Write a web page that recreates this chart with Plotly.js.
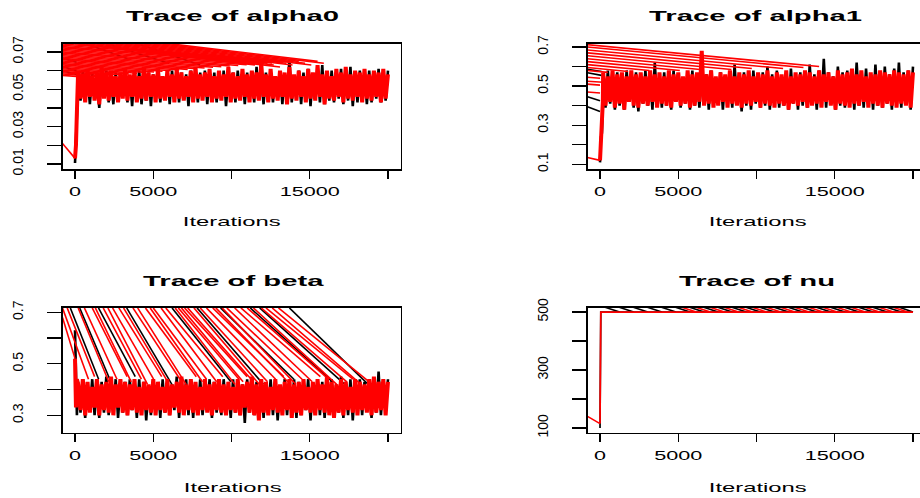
<!DOCTYPE html>
<html><head><meta charset="utf-8">
<script src="https://cdn.plot.ly/plotly-3.0.1.min.js"></script>
<style>html,body{margin:0;padding:0;overflow:hidden;background:#fff}#chart{width:935px;height:498px}</style>
</head><body><div id="chart"></div>
<script>
// ---------- data ----------
const panelTitles = ["Trace of alpha0", "Trace of alpha1", "Trace of beta", "Trace of nu"];
const xTickVals = [0, 5000, 10000, 15000, 20000];
const xTickText = ["0", "5000", "", "15000", ""];
const bandStart = 200, bandStep = 150; // thinned iteration grid of the stationary part

// alpha0
const alpha0BlackStartX = [0, 60, 120, 180];
const alpha0BlackStartY = [0.0105, 0.021, 0.035, 0.048];
const alpha0RedStartX = [0, 60, 120, 180];
const alpha0RedStartY = [0.013, 0.020, 0.038, 0.050];
const alpha0Black = [.058,.044,.060,.046,.057,.042,.059,.045,.055,.040,.058,.047,.060,.043,.056,.042,.059,.044,.058,.046,
.061,.043,.057,.041,.059,.045,.060,.042,.056,.044,.059,.041,.058,.046,.060,.043,.055,.045,.059,.042,
.060,.044,.057,.043,.059,.045,.058,.041,.060,.044,.056,.043,.059,.046,.060,.042,.057,.044,.059,.043,
.058,.045,.060,.041,.056,.044,.059,.043,.060,.045,.057,.042,.059,.044,.058,.043,.062,.045,.056,.042,
.059,.044,.060,.043,.057,.045,.059,.042,.058,.044,.066,.043,.057,.045,.060,.042,.059,.044,.061,.041,
.058,.045,.060,.043,.063,.042,.057,.044,.060,.043,.059,.045,.061,.042,.058,.044,.062,.041,.057,.043,
.060,.044,.058,.042,.060,.043,.059,.045,.061,.043,.058,.044,.060];
const alpha0Red = [.060,.045,.058,.043,.061,.046,.057,.044,.059,.042,.062,.045,.058,.044,.060,.046,.057,.043,.059,.045,
.061,.044,.058,.046,.060,.043,.057,.045,.062,.044,.059,.046,.058,.043,.061,.045,.057,.044,.060,.046,
.058,.043,.061,.045,.059,.044,.057,.046,.060,.043,.062,.045,.058,.044,.059,.046,.061,.043,.057,.045,
.060,.044,.058,.046,.062,.043,.059,.045,.057,.044,.061,.046,.058,.043,.060,.045,.059,.044,.064,.046,
.058,.043,.061,.045,.057,.044,.060,.046,.059,.042,.062,.045,.058,.044,.060,.046,.057,.043,.061,.045,
.059,.044,.063,.046,.058,.042,.060,.045,.057,.044,.061,.046,.059,.043,.062,.045,.058,.044,.060,.046,
.059,.043,.061,.045,.058,.044,.060,.046,.059,.043,.061,.045,.058];
const alpha0BlackWrapX0 = [-800, -800, -800, 700, 2000, 4000];
const alpha0BlackWrapY0 = [0.0668, 0.0622, 0.0600, 0.0745, 0.0745, 0.0745];
const alpha0BlackWrapX1 = [100, 100, 100, 3500, 6000, 8000];
const alpha0BlackWrapY1 = [0.0645, 0.0600, 0.0580, 0.066, 0.064, 0.063];
const alpha0RedWrapX0 = [-800,
  -800,-800,-800,-800,-800,-800,-800,-800,-800,-800,-800,-800,-800,-800,-800,-800,-800,-800,-800,-800,-800,-800,-800,-800,-800,
  0,600,1200,1800,2400,3000,3600,4200,4800,5400,6000];
const alpha0RedWrapY0 = [.021,
  .0575,.0582,.0589,.0596,.0603,.0610,.0617,.0624,.0631,.0638,.0645,.0652,.0659,.0666,.0673,.0680,.0687,.0694,.0701,.0708,.0715,.0722,.0729,.0736,.0743,
  .0745,.0745,.0745,.0745,.0745,.0745,.0745,.0745,.0745,.0745,.0745];
const alpha0RedWrapX1 = [0,
  740,1280,1820,2350,2890,3430,3970,4510,5050,5590,6120,6660,7200,7740,8280,8820,9350,9890,10430,10970,11510,12050,12590,13120,13660,
  11500,13100,12700,12300,13900,13500,15100,14700,14300,15900,15500];
const alpha0RedWrapY1 = [.013,
  .0565,.0569,.0572,.0576,.0579,.0583,.0586,.0590,.0593,.0597,.0600,.0604,.0607,.0611,.0614,.0618,.0621,.0625,.0628,.0632,.0635,.0639,.0642,.0646,.0649,
  .063,.062,.063,.064,.063,.064,.063,.064,.065,.064,.065];

// alpha1
const alpha1BlackStartX = [0, 60, 120, 180];
const alpha1BlackStartY = [0.11, 0.24, 0.26, 0.40];
const alpha1RedStartX = [0, 60, 120, 180];
const alpha1RedStartY = [0.12, 0.22, 0.27, 0.42];
const alpha1Black = [.56,.39,.58,.41,.55,.38,.57,.40,.54,.38,.58,.42,.56,.39,.57,.37,.55,.41,.58,.40,
.54,.38,.62,.41,.56,.39,.57,.40,.55,.38,.58,.42,.56,.39,.54,.41,.57,.38,.58,.40,
.55,.39,.57,.41,.56,.38,.58,.40,.54,.42,.57,.38,.55,.40,.56,.39,.61,.41,.55,.37,
.57,.40,.56,.38,.58,.41,.55,.39,.57,.40,.60,.38,.56,.41,.58,.39,.55,.40,.57,.38,
.59,.41,.56,.38,.57,.40,.55,.39,.61,.42,.56,.38,.58,.40,.64,.39,.57,.41,.55,.38,
.60,.40,.57,.39,.58,.41,.56,.38,.62,.40,.57,.39,.59,.41,.56,.38,.61,.40,.57,.39,
.60,.41,.56,.38,.59,.40,.62,.39,.57,.41,.58,.38,.60];
const alpha1Red = [.57,.40,.55,.42,.58,.39,.56,.41,.57,.38,.55,.42,.58,.40,.56,.39,.57,.41,.55,.40,
.58,.42,.56,.39,.57,.41,.55,.40,.58,.39,.56,.42,.57,.40,.55,.41,.58,.39,.56,.40,
.57,.42,.68,.40,.56,.41,.58,.39,.55,.40,.57,.42,.56,.39,.58,.41,.55,.40,.57,.39,
.56,.41,.58,.40,.55,.42,.57,.39,.56,.41,.58,.40,.55,.39,.57,.41,.56,.40,.58,.38,
.55,.41,.57,.40,.56,.42,.58,.39,.57,.40,.55,.41,.58,.39,.56,.42,.57,.40,.55,.38,
.58,.41,.56,.40,.57,.39,.59,.41,.56,.40,.58,.42,.55,.39,.57,.41,.56,.40,.58,.39,
.57,.41,.56,.40,.58,.39,.57,.41,.56,.40,.58,.39,.57];
const alpha1BlackWrapX0 = [-800, -800, -800, -800];
const alpha1BlackWrapY0 = [0.586, 0.568, 0.445, 0.394];
const alpha1BlackWrapX1 = [100, 100, 0, 0];
const alpha1BlackWrapY1 = [0.575, 0.555, 0.425, 0.37];
const alpha1RedWrapX0 = [-800,-800,-800,-800,-800,-800,-800,-800,-800,-800,-800,-800,-800,-800,-800];
const alpha1RedWrapY0 = [0.135, 0.712,0.700,0.685,0.670,0.655,0.640,0.625,0.610,0.595,0.580, 0.545,0.525,0.510,0.470];
const alpha1RedWrapX1 = [0, 14000,13000,11700,9700,8400,6400,5100,3150,1800,500, 0,200,0,0];
const alpha1RedWrapY1 = [0.12, 0.600,0.595,0.590,0.590,0.585,0.585,0.580,0.580,0.575,0.570, 0.540,0.520,0.505,0.465];

// beta
const betaBlackStartX = [0, 60, 120];
const betaBlackStartY = [0.63, 0.45, 0.30];
const betaRedStartX = [0, 60, 120];
const betaRedStartY = [0.52, 0.33, 0.44];
const betaBlack = [.43,.31,.44,.29,.42,.32,.44,.30,.41,.29,.43,.31,.45,.30,.42,.32,.44,.29,.41,.31,
.43,.30,.44,.32,.42,.29,.44,.31,.43,.28,.41,.30,.44,.32,.42,.29,.44,.31,.43,.30,
.42,.32,.45,.29,.41,.31,.44,.30,.43,.29,.42,.31,.44,.30,.41,.32,.44,.29,.43,.31,
.42,.30,.44,.32,.41,.29,.44,.31,.43,.30,.42,.27,.44,.31,.41,.30,.43,.32,.44,.29,
.42,.31,.44,.30,.43,.28,.41,.32,.44,.30,.42,.31,.44,.29,.43,.30,.41,.32,.44,.28,
.42,.31,.44,.30,.43,.29,.41,.32,.44,.30,.42,.31,.45,.29,.43,.30,.44,.28,.42,.31,
.44,.30,.43,.32,.41,.29,.44,.31,.47,.30,.43,.31,.44];
const betaRed = [.42,.32,.44,.30,.43,.31,.41,.33,.44,.30,.42,.32,.43,.31,.45,.30,.42,.33,.44,.31,
.43,.30,.42,.32,.44,.31,.41,.30,.43,.32,.42,.31,.44,.30,.43,.32,.41,.31,.44,.30,
.42,.33,.43,.31,.45,.30,.42,.32,.44,.31,.43,.30,.41,.32,.44,.31,.42,.30,.43,.32,
.44,.31,.42,.30,.43,.32,.41,.31,.44,.30,.42,.33,.43,.31,.45,.30,.42,.28,.44,.31,
.43,.30,.41,.32,.44,.31,.42,.30,.43,.32,.44,.29,.42,.31,.43,.30,.44,.32,.41,.31,
.43,.30,.44,.32,.42,.31,.45,.30,.43,.29,.42,.31,.44,.30,.43,.32,.41,.31,.44,.30,
.43,.32,.42,.31,.44,.30,.45,.31,.43,.32,.44,.30,.43];
const betaBlackWrapX0 = [-300, 300, 1500, 3300, 6200, 7800, 9300, 11200, 11800, 13700];
const betaBlackWrapY0 = [.717,.717,.717,.717,.717,.717,.717,.717,.717,.717];
const betaBlackWrapX1 = [1510, 2290, 3850, 6190, 9960, 12040, 13990, 16460, 17240, 18900];
const betaBlackWrapY1 = [.44,.43,.45,.42,.43,.42,.44,.43,.42,.41];
const betaRedWrapX0 = [-800, -800,-500,200,600,1100,1300,1800,2100,2400,2800,3100,3700,4000,4500,4800,5000,5500,5800,6400,6600,6800,7000,7200,7600,8000,8400,8800,9000,9400,9700,10200,10600,11000,11400,11900,12200,12600,13000];
const betaRedWrapY0 = [.68, .717,.717,.717,.717,.717,.717,.717,.717,.717,.717,.717,.717,.717,.717,.717,.717,.717,.717,.717,.717,.717,.717,.717,.717,.717,.717,.717,.717,.717,.717,.717,.717,.717,.717,.717,.717,.717,.717];
const betaRedWrapX1 = [0, 860,1250,2160,2680,3330,3590,4240,4630,5020,5540,5930,6710,7100,7750,8140,8400,9050,9440,10220,10480,10740,11000,11260,11780,12300,12820,13340,13600,14120,14510,15160,15680,16200,16720,17370,17760,18280,18800];
const betaRedWrapY1 = [.52, .44,.45,.43,.44,.45,.43,.44,.42,.44,.45,.43,.44,.42,.45,.43,.44,.43,.45,.42,.44,.43,.45,.44,.42,.43,.44,.45,.43,.42,.44,.43,.45,.44,.42,.43,.44,.42,.43];

// nu
const nuBlackX = [0, 50, 20000];
const nuBlackY = [100, 500, 500];
const nuRedX = [0, 50, 20000];
const nuRedY = [115, 500, 500];
const nuBlackWrapX0 = [300,1200,2100,3000,3900,4800,5700,6600,7500,8400,9300,10200,11100,12000,12900,13800,14700,15600,16500,17400,18300,19100];
const nuBlackWrapY0 = [517,517,517,517,517,517,517,517,517,517,517,517,517,517,517,517,517,517,517,517,517,517];
const nuBlackWrapX1 = [1250,2150,3050,3950,4850,5750,6650,7550,8450,9350,10250,11150,12050,12950,13850,14750,15650,16550,17450,18350,19250,20000];
const nuBlackWrapY1 = [500,500,500,500,500,500,500,500,500,500,500,500,500,500,500,500,500,500,500,500,500,500];
const nuRedWrapX0 = [-800, 5200,6100,7000,7900,8800,9700,10600,11500,12400,13300,14200,15100,16000,16900,17800,18700];
const nuRedWrapY0 = [140, 517,517,517,517,517,517,517,517,517,517,517,517,517,517,517,517];
const nuRedWrapX1 = [0, 6150,7050,7950,8850,9750,10650,11550,12450,13350,14250,15150,16050,16950,17850,18750,19650];
const nuRedWrapY1 = [115, 500,500,500,500,500,500,500,500,500,500,500,500,500,500,500,500];

// ---------- build ----------
const W = 935, H = 498;
const BLACK = '#000000', RED = '#ff0000';
function bandX(n) { const a = []; for (let i = 0; i < n; i++) a.push(bandStart + i * bandStep); return a; }
function chain(sx, sy, band, color, k, w) {
  return {type:'scatter', mode:'lines', x: sx.concat(bandX(band.length)), y: sy.concat(band),
    line:{color:color, width:w}, xaxis:'x'+k, yaxis:'y'+k, hoverinfo:'skip', showlegend:false};
}
function plain(x, y, color, k) {
  return {type:'scatter', mode:'lines', x:x, y:y, line:{color:color, width:1.7},
    xaxis:'x'+k, yaxis:'y'+k, hoverinfo:'skip', showlegend:false};
}
function wraps(x0, y0, x1, y1, color, k) {
  const x = [], y = [];
  for (let i = 0; i < x0.length; i++) { x.push(x0[i], x1[i], null); y.push(y0[i], y1[i], null); }
  return {type:'scatter', mode:'lines', x:x, y:y, line:{color:color, width:1.6},
    xaxis:'x'+k, yaxis:'y'+k, hoverinfo:'skip', showlegend:false};
}
const data = [
  chain(alpha0BlackStartX, alpha0BlackStartY, alpha0Black, BLACK, '', 2.6),
  wraps(alpha0BlackWrapX0, alpha0BlackWrapY0, alpha0BlackWrapX1, alpha0BlackWrapY1, BLACK, ''),
  chain(alpha0RedStartX, alpha0RedStartY, alpha0Red, RED, '', 4),
  wraps(alpha0RedWrapX0, alpha0RedWrapY0, alpha0RedWrapX1, alpha0RedWrapY1, RED, ''),
  chain(alpha1BlackStartX, alpha1BlackStartY, alpha1Black, BLACK, '2', 2.6),
  wraps(alpha1BlackWrapX0, alpha1BlackWrapY0, alpha1BlackWrapX1, alpha1BlackWrapY1, BLACK, '2'),
  chain(alpha1RedStartX, alpha1RedStartY, alpha1Red, RED, '2', 4),
  wraps(alpha1RedWrapX0, alpha1RedWrapY0, alpha1RedWrapX1, alpha1RedWrapY1, RED, '2'),
  chain(betaBlackStartX, betaBlackStartY, betaBlack, BLACK, '3', 2.6),
  wraps(betaBlackWrapX0, betaBlackWrapY0, betaBlackWrapX1, betaBlackWrapY1, BLACK, '3'),
  chain(betaRedStartX, betaRedStartY, betaRed, RED, '3', 4),
  wraps(betaRedWrapX0, betaRedWrapY0, betaRedWrapX1, betaRedWrapY1, RED, '3'),
  plain(nuBlackX, nuBlackY, BLACK, '4'),
  wraps(nuBlackWrapX0, nuBlackWrapY0, nuBlackWrapX1, nuBlackWrapY1, BLACK, '4'),
  plain(nuRedX, nuRedY, RED, '4'),
  wraps(nuRedWrapX0, nuRedWrapY0, nuRedWrapX1, nuRedWrapY1, RED, '4')
];

const FONT = 'Liberation Sans, Arial, sans-serif';
function xAxis(l, r, anchor) {
  return {domain:[l / W, r / W], anchor:anchor, range:[-800, 20800], tickmode:'array',
    tickvals:xTickVals, ticktext:xTickText, ticks:'outside', ticklen:8, tickwidth:1.4, tickcolor:'#000',
    showline:true, mirror:true, linecolor:'#000', linewidth:1.6, showgrid:false, zeroline:false,
    tickfont:{family:FONT, size:12, color:'#000'}, ticklabelstandoff:3};
}
function yAxis(t, b, anchor, range, vals, text) {
  return {domain:[1 - b / H, 1 - t / H], anchor:anchor, range:range, tickmode:'array',
    tickvals:vals, ticktext:text, tickangle:-90, ticks:'outside', ticklen:14, tickwidth:1.4, tickcolor:'#000',
    showline:true, mirror:true, linecolor:'#000', linewidth:1.6, showgrid:false, zeroline:false,
    tickfont:{family:FONT, size:14, color:'#000'}, ticklabelstandoff:18};
}
function ann(text, px, py, size, bold) {
  return {text: bold ? '<b>' + text + '</b>' : text, xref:'paper', yref:'paper', x:px / W, y:1 - py / H,
    xanchor:'center', yanchor:'middle', showarrow:false, font:{family:FONT, size:size, color:'#000'}};
}
const layout = {
  width:W, height:H, margin:{l:0, r:0, t:0, b:0}, paper_bgcolor:'#fff', plot_bgcolor:'#fff',
  showlegend:false,
  xaxis: xAxis(62.5, 400.5, 'y'),
  yaxis: yAxis(44, 169, 'x', [0.0073, 0.0743], [0.01,0.02,0.03,0.04,0.05,0.06,0.07], ['0.01','','0.03','','0.05','','0.07']),
  xaxis2: xAxis(587.5, 925.5, 'y2'),
  yaxis2: yAxis(44, 169, 'x2', [0.0759, 0.7154], [0.1,0.2,0.3,0.4,0.5,0.6,0.7], ['0.1','','0.3','','0.5','','0.7']),
  xaxis3: xAxis(62.5, 400.5, 'y3'),
  yaxis3: yAxis(308, 432.5, 'x3', [0.233, 0.7167], [0.3,0.4,0.5,0.6,0.7], ['0.3','','0.5','','0.7']),
  xaxis4: xAxis(587.5, 925.5, 'y4'),
  yaxis4: yAxis(308, 432.5, 'x4', [84.3, 513.9], [100,200,300,400,500], ['100','','300','','500']),
  annotations: [
    ann(panelTitles[0], 232, 15.5, 15, true),
    ann(panelTitles[1], 755, 15.5, 15, true),
    ann(panelTitles[2], 233, 280, 15, true),
    ann(panelTitles[3], 757, 280, 15, true),
    ann('Iterations', 232, 221.5, 13, false),
    ann('Iterations', 758, 221.5, 13, false),
    ann('Iterations', 232.5, 487, 13, false),
    ann('Iterations', 758, 487, 13, false)
  ]
};

function stretch(nodes, f) {
  nodes.forEach(function (el) {
    const w = el.getComputedTextLength();
    if (w > 0) { el.setAttribute('textLength', (w * f).toFixed(1)); el.setAttribute('lengthAdjust', 'spacingAndGlyphs'); }
  });
}
Plotly.newPlot('chart', data, layout, {staticPlot:true, displayModeBar:false}).then(function (gd) {
  const annTexts = Array.from(gd.querySelectorAll('.annotation-text'));
  stretch(annTexts.filter(t => t.textContent.indexOf('Trace') === 0), 1.95);
  stretch(annTexts.filter(t => t.textContent.indexOf('Iterations') === 0), 1.83);
  stretch(Array.from(gd.querySelectorAll('.xtick text, .x2tick text, .x3tick text, .x4tick text')), 1.8);
});
</script></body></html>
